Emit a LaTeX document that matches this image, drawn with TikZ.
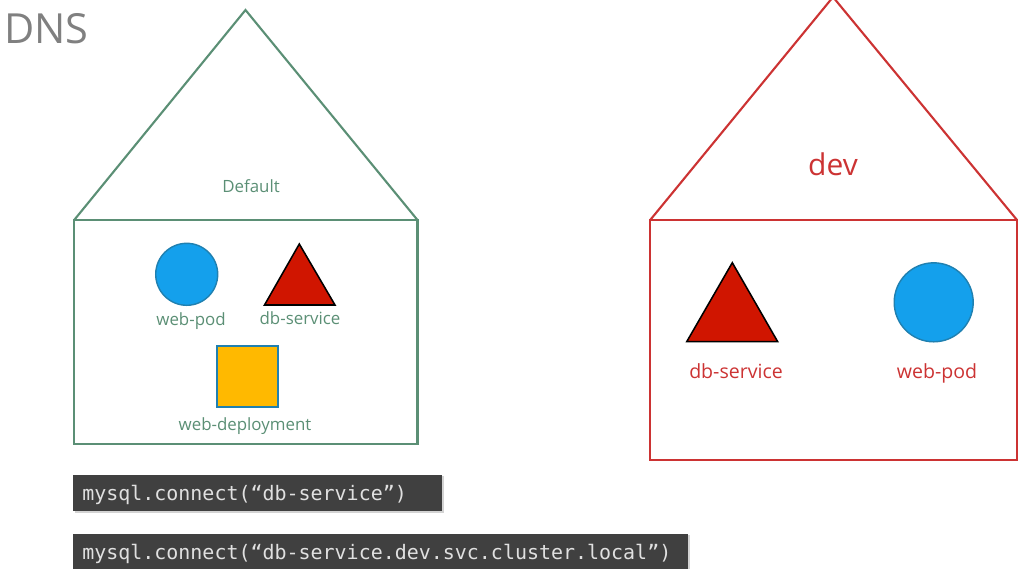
\documentclass[tikz,border=0pt]{standalone}
\usepackage{fontspec}
\setmainfont{Open Sans}
\setmonofont{DejaVu Sans Mono}
\usetikzlibrary{shadows}
\definecolor{nsgreen}{HTML}{5B8F75}
\definecolor{nsred}{HTML}{CC3333}
\definecolor{podblue}{HTML}{14A0EC}
\definecolor{podedge}{HTML}{2080B0}
\definecolor{svcred}{HTML}{D01500}
\definecolor{depyellow}{HTML}{FFB900}
\definecolor{codegrey}{HTML}{404040}
\definecolor{titlegrey}{HTML}{808080}
\tikzset{
    greenhouse/.style={draw=nsgreen, line width=1.5pt, line join=miter},
    redhouse/.style={draw=nsred, line width=1.5pt, line join=miter},
    pod/.style={draw=podedge, fill=podblue, line width=1pt},
    service/.style={draw=black, fill=svcred, line width=1.1pt, line join=miter},
    deployment/.style={draw=podedge, fill=depyellow, line width=1.2pt},
    greenlabel/.style={text=nsgreen, font=\fontsize{12}{14}\selectfont, inner sep=0pt},
    redlabel/.style={text=nsred, font=\fontsize{13.9}{16}\selectfont, inner sep=0pt},
    codebox/.style={fill=codegrey, text=white!88!black, anchor=west, align=left, inner sep=0pt,
        minimum height=26pt, text height=14pt, text depth=3pt,
        font=\ttfamily\fontsize{14.2}{16}\selectfont,
        drop shadow={shadow xshift=1pt, shadow yshift=-1pt, opacity=0.35}}
}
\begin{document}
\begin{tikzpicture}[x=0.025cm, y=-0.025cm]
    \useasboundingbox (0, 0) rectangle (1024, 568);
    \clip (0, 0) rectangle (1024, 568);
    \node[text=titlegrey, font=\fontsize{29.5}{34}\selectfont, inner sep=0pt] (title) at (46.5, 29) {DNS};
    % default namespace
    \draw[greenhouse] (74.2, 220)--(417.5, 220)--(417.5, 444.4)--(74.2, 444.4)--cycle;
    \draw[greenhouse] (74.2, 220)--(245.5, 10)--(417.5, 220);
    \node[greenlabel] (defaultname) at (251, 186) {Default};
    \draw[pod] (186.7, 274.3) circle (31);
    \draw[service] (264.5, 305)--(299.3, 244)--(335, 305)--cycle;
    \draw[deployment] (217.2, 346)--(277.7, 346)--(277.7, 406.7)--(217.2, 406.7)--cycle;
    \node[greenlabel] (greenpod) at (191, 321.5) {web-pod};
    \node[greenlabel] (greensvc) at (300, 318.5) {db-service};
    \node[greenlabel] (greendep) at (245, 426.5) {web-deployment};
    % dev namespace
    \draw[redhouse] (650.2, 220)--(1017, 220)--(1017, 459.9)--(650.2, 459.9)--cycle;
    \draw[redhouse] (650.2, 220)--(833, -3)--(1017, 220);
    \node[text=nsred, font=\fontsize{21.3}{25}\selectfont, inner sep=0pt] (devname) at (833, 164) {dev};
    \draw[service] (686.7, 341.7)--(732.3, 262.7)--(777.7, 341.7)--cycle;
    \draw[pod] (933.7, 302.3) circle (39.5);
    \node[redlabel] (redsvc) at (736, 371) {db-service};
    \node[redlabel] (redpod) at (937, 373) {web-pod};
    % code lines
    \node[codebox, minimum width=262.4pt, text width=262.4pt] (shortcode) at (73, 493) {\hspace{6.4pt}mysql.connect(“db-service”)};
    \node[codebox, minimum width=437.3pt, text width=437.3pt] (longcode) at (73, 552) {\hspace{6.4pt}mysql.connect(“db-service.dev.svc.cluster.local”)};
\end{tikzpicture}
\end{document}
